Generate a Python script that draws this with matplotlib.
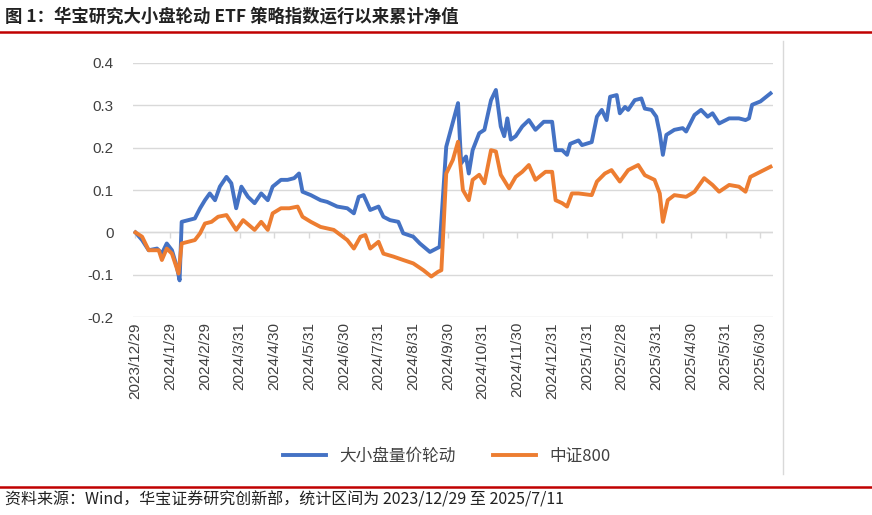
import matplotlib
matplotlib.use("Agg")
import matplotlib.pyplot as plt

plt.rcParams['font.family'] = ['Liberation Sans', 'Noto Sans CJK SC', 'DejaVu Sans']

tick_labels = ["2023/12/29","2024/1/29","2024/2/29","2024/3/31","2024/4/30","2024/5/31",
               "2024/6/30","2024/7/31","2024/8/31","2024/9/30","2024/10/31","2024/11/30",
               "2024/12/31","2025/1/31","2025/2/28","2025/3/31","2025/4/30","2025/5/31","2025/6/30"]

# x in months since 2023/12/29
blue_x = [0,0.19,0.38,0.62,0.76,0.90,1.05,1.19,1.27,1.33,1.71,1.86,2.00,2.14,2.29,2.43,2.62,2.76,2.90,
          3.05,3.24,3.43,3.62,3.81,3.95,4.19,4.38,4.57,4.71,4.81,5.05,5.33,5.52,5.81,6.10,6.29,6.43,
          6.57,6.76,7.00,7.14,7.33,7.57,7.71,8.00,8.19,8.48,8.76,8.95,9.29,9.38,9.52,9.60,9.71,9.90,
          10.05,10.24,10.38,10.52,10.62,10.71,10.81,10.95,11.14,11.33,11.52,11.76,12.00,12.10,12.29,
          12.43,12.52,12.76,12.86,13.14,13.29,13.43,13.57,13.67,13.86,13.95,14.10,14.19,14.38,14.57,
          14.67,14.86,15.00,15.10,15.19,15.29,15.52,15.76,15.86,16.10,16.29,16.48,16.62,16.81,17.10,
          17.38,17.57,17.67,17.76,18.00,18.29]
blue_y = [0,-0.018,-0.042,-0.038,-0.050,-0.026,-0.042,-0.081,-0.113,0.025,0.033,0.057,0.076,0.092,0.076,
          0.108,0.131,0.116,0.057,0.108,0.084,0.069,0.092,0.076,0.108,0.124,0.124,0.128,0.139,0.096,
          0.088,0.076,0.072,0.061,0.057,0.045,0.084,0.088,0.053,0.061,0.037,0.029,0.025,-0.002,-0.010,
          -0.026,-0.046,-0.034,0.202,0.305,0.163,0.179,0.139,0.194,0.234,0.242,0.312,0.336,0.250,0.227,
          0.269,0.219,0.227,0.250,0.265,0.242,0.261,0.261,0.194,0.194,0.183,0.209,0.217,0.206,0.213,
          0.273,0.289,0.265,0.320,0.324,0.281,0.296,0.289,0.312,0.316,0.292,0.289,0.273,0.234,0.183,
          0.230,0.242,0.246,0.238,0.277,0.289,0.273,0.281,0.257,0.269,0.269,0.265,0.269,0.301,0.309,0.328]

orange_x = [0,0.19,0.38,0.67,0.76,0.90,1.05,1.24,1.33,1.71,1.86,2.00,2.19,2.38,2.62,2.90,3.10,3.43,3.62,
            3.81,3.95,4.19,4.43,4.67,4.81,5.05,5.33,5.71,6.10,6.29,6.48,6.62,6.76,7.00,7.14,7.43,7.71,
            8.00,8.29,8.52,8.71,8.81,8.95,9.14,9.29,9.43,9.60,9.71,9.90,10.05,10.24,10.38,10.52,10.76,
            10.95,11.14,11.33,11.52,11.81,12.00,12.10,12.29,12.43,12.57,12.76,13.14,13.29,13.52,13.71,
            13.95,14.19,14.48,14.67,14.95,15.10,15.19,15.33,15.52,15.86,16.10,16.38,16.62,16.81,17.10,
            17.38,17.57,17.71,18.00,18.29]
orange_y = [0,-0.010,-0.042,-0.042,-0.065,-0.038,-0.050,-0.097,-0.026,-0.018,-0.002,0.021,0.025,0.037,
            0.041,0.006,0.029,0.006,0.025,0.006,0.045,0.057,0.057,0.061,0.037,0.025,0.013,0.006,-0.018,
            -0.038,-0.010,-0.006,-0.038,-0.022,-0.050,-0.057,-0.065,-0.073,-0.089,-0.104,-0.093,-0.089,
            0.139,0.171,0.214,0.100,0.076,0.124,0.136,0.116,0.194,0.191,0.136,0.104,0.131,0.143,0.159,
            0.124,0.143,0.143,0.076,0.069,0.061,0.092,0.092,0.088,0.120,0.139,0.147,0.120,0.147,0.159,
            0.135,0.124,0.092,0.025,0.076,0.088,0.084,0.096,0.128,0.112,0.096,0.112,0.108,0.096,0.131,
            0.143,0.155]

blue_c = '#4472C4'
orange_c = '#ED7D31'

fig = plt.figure(figsize=(8.72, 5.15), dpi=100)
ax = fig.add_axes([0.153, 0.384, 0.733, 0.494])
ax.plot(blue_x, blue_y, color=blue_c, lw=2.8, label='大小盘量价轮动', solid_joinstyle='round')
ax.plot(orange_x, orange_y, color=orange_c, lw=2.8, label='中证800', solid_joinstyle='round')
ax.set_ylim(-0.2, 0.4)
ax.set_xlim(-0.06, 18.35)
ax.set_yticks([-0.2, -0.1, 0, 0.1, 0.2, 0.3, 0.4])
ax.set_yticklabels(['-0.2', '-0.1', '0', '0.1', '0.2', '0.3', '0.4'])
ax.yaxis.grid(True, color='#D9D9D9', lw=1)
ax.set_axisbelow(True)
for s in ax.spines.values():
    s.set_visible(False)
ticks = list(range(len(tick_labels)))
ax.set_xticks(ticks)
ax.set_xticklabels(tick_labels, rotation=90, fontsize=11, color='#404040')
ax.tick_params(axis='both', length=0, labelsize=11, labelcolor='#404040')
ax.tick_params(axis='y', pad=14)
ax.axhline(0, color='#D9D9D9', lw=1, zorder=0)
ax.vlines(ticks, -0.012, 0, color='#D9D9D9', lw=1, zorder=0)

ax.legend(loc='upper center', bbox_to_anchor=(0.49, -0.455), ncol=2, frameon=False,
          handlelength=2.6, columnspacing=2.2,
          prop={'family': ['Noto Sans CJK SC', 'DejaVu Sans'], 'size': 12})
for t in ax.get_legend().get_texts():
    t.set_color('#404040')

fig.text(0.006, 0.967, '图 1：华宝研究大小盘轮动 ETF 策略指数运行以来累计净值', fontsize=12.5,
         fontweight='bold', family=['Noto Sans CJK SC', 'DejaVu Sans'], va='center', color='#222222')
fig.add_artist(plt.Line2D([0.0, 1.0], [0.938, 0.938], color='#C00000', lw=1.8))
fig.add_artist(plt.Line2D([0.0, 1.0], [0.054, 0.054], color='#C00000', lw=1.8))
fig.add_artist(plt.Line2D([0.898, 0.898], [0.08, 0.92], color='#D9D9D9', lw=1))
fig.text(0.006, 0.030, '资料来源：Wind，华宝证券研究创新部，统计区间为 2023/12/29 至 2025/7/11', fontsize=11.5,
         family=['Noto Sans CJK SC', 'DejaVu Sans'], va='center', color='#222222')

fig.savefig('out.png', dpi=100)
